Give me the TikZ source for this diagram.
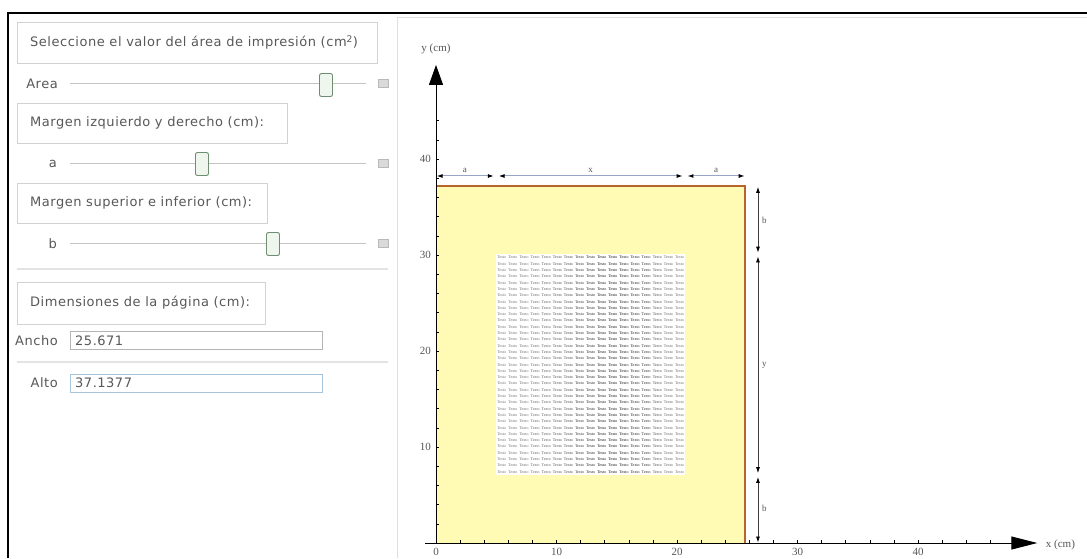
\documentclass[tikz,border=0pt]{standalone}
\usepackage{fontspec}
\setmainfont{DejaVu Sans}[LetterSpace=4]
\newfontfamily\serifp{Liberation Serif}
\usetikzlibrary{arrows.meta}
\definecolor{uigray}{HTML}{585858}
\definecolor{boxline}{HTML}{D2D2D2}
\definecolor{trackc}{HTML}{C4C4C4}
\definecolor{thumbline}{HTML}{6E8E72}
\definecolor{thumbfill}{HTML}{EEF6EE}
\definecolor{fieldline}{HTML}{B4B4B4}
\definecolor{fieldblue}{HTML}{A6C4DA}
\definecolor{pagefill}{HTML}{FFFBB4}
\definecolor{pageedge}{HTML}{B8642A}
\definecolor{dimtopc}{HTML}{9AA4C4}
\definecolor{dimrightc}{HTML}{3C3C3C}
\definecolor{labgray}{HTML}{555555}
\tikzset{
  uitext/.style={font=\fontsize{13}{15}\selectfont, text=uigray, inner sep=0pt},
  labelbox/.style={draw=boxline, line width=0.8pt, anchor=north west, inner sep=0pt},
  trackline/.style={draw=trackc, line width=0.9pt},
  thumb/.style={draw=thumbline, fill=thumbfill, line width=0.9pt, rounded corners=2pt, minimum width=13pt, minimum height=23pt, inner sep=0pt},
  btn/.style={draw=gray!55, fill=gray!30, minimum width=10pt, minimum height=8pt, inner sep=0pt},
  field/.style={draw=fieldline, line width=0.8pt, fill=white, anchor=north west, minimum width=252pt, minimum height=18pt, inner sep=0pt},
  sepline/.style={draw=gray!22, line width=1.2pt},
  axisline/.style={draw=black, line width=1pt},
  ticklab/.style={font=\serifp\fontsize{11}{12}\selectfont, text=labgray, inner sep=0pt},
  dimlab/.style={font=\serifp\fontsize{9}{10}\selectfont, text=labgray, inner sep=0pt},
  dimtop/.style={draw=dimtopc, line width=1pt, {Latex[length=6pt,width=4pt,black]}-{Latex[length=6pt,width=4pt,black]}},
  dimright/.style={draw=dimrightc, line width=0.8pt, {Latex[length=6pt,width=4pt,black]}-{Latex[length=6pt,width=4pt,black]}},
  gridword/.style={font=\serifp\fontsize{4}{4}\selectfont, inner sep=0pt}
}
\begin{document}
\begin{tikzpicture}[x=1pt,y=-1pt]
\useasboundingbox (0,0) rectangle (1087,558);
\fill[white] (0,0) rectangle (1087,558);
% outer frame
\draw[black, line width=2.5pt] (8,558) -- (8,13) -- (1087,13);
% panel borders
\draw[gray!25, line width=1pt] (397,558) -- (397,17) -- (1087,17);

% ---------- left control panel ----------
\node[labelbox, minimum width=360pt, minimum height=41pt] (box1) at (17,22) {};
\node[uitext, anchor=west] (t1) at (30,42.5) {Seleccione el valor del área de impresión (cm\textsuperscript{2})};
\node[uitext, anchor=east] (lArea) at (58,84) {Area};
\coordinate (trA1) at (70,83); \coordinate (trA2) at (366,83);
\draw[trackline] (trA1) -- (trA2);
\node[thumb] (thA) at (326,85) {};
\node[btn] (bA) at (383,83) {};

\node[labelbox, minimum width=270pt, minimum height=40pt] (box2) at (17,103) {};
\node[uitext, anchor=west] (t2) at (30,123) {Margen izquierdo y derecho (cm):};
\node[uitext, anchor=east] (la) at (57,164) {a};
\coordinate (tra1) at (70,163); \coordinate (tra2) at (366,163);
\draw[trackline] (tra1) -- (tra2);
\node[thumb] (tha) at (202,164) {};
\node[btn] (ba) at (383,163) {};

\node[labelbox, minimum width=250pt, minimum height=40pt] (box3) at (17,183) {};
\node[uitext, anchor=west] (t3) at (30,203) {Margen superior e inferior (cm):};
\node[uitext, anchor=east] (lb) at (57,244) {b};
\coordinate (trb1) at (70,243); \coordinate (trb2) at (366,243);
\draw[trackline] (trb1) -- (trb2);
\node[thumb] (thb) at (273,244) {};
\node[btn] (bb) at (383,243) {};

\coordinate (s1a) at (17,269); \coordinate (s1b) at (388,269);
\draw[sepline] (s1a) -- (s1b);

\node[labelbox, minimum width=248pt, minimum height=42pt] (box4) at (17,282) {};
\node[uitext, anchor=west] (t4) at (30,303) {Dimensiones de la página (cm):};

\node[uitext, anchor=east] (lAncho) at (58,341) {Ancho};
\node[field] (fAncho) at (70,331) {};
\node[uitext, anchor=west] (vAncho) at (75,340.5) {25.671};

\coordinate (s2a) at (17,362); \coordinate (s2b) at (388,362);
\draw[sepline] (s2a) -- (s2b);

\node[uitext, anchor=east] (lAlto) at (58,383) {Alto};
\node[field, draw=fieldblue] (fAlto) at (70,374) {};
\node[uitext, anchor=west] (vAlto) at (75,383) {37.1377};

% ---------- plot ----------
\begin{scope}[shift={(436,543)}, x=12.05pt, y=9.6pt]
  \coordinate (O) at (0,0);
  \coordinate (P1) at (0,37.1377);
  \coordinate (P2) at (25.671,37.1377);
  \coordinate (P3) at (25.671,0);
  \fill[pagefill] (O) rectangle (P2);
  \draw[pageedge, line width=2pt] (P1) -- (P2) -- (P3);
  % text area
  \fill[white] (5,7.083) rectangle (20.671,30.055);
  \foreach \c/\k in {0/55,1/58,2/60,3/62,4/66,5/70,6/75,7/82,8/88,9/95,10/97,11/97,12/92,13/85,14/72,15/64,16/58}{
    \foreach \r in {0,...,34}{
      \node[gridword, text=black!\k] (w-\r-\c) at ({5+0.9218*(\c+0.5)},{7.083+0.6563*(\r+0.5)}) {Texto};
    }
  }
  % axes
  \coordinate (xs) at (-0.9,0); \coordinate (xe) at (49.9,0);
  \coordinate (ys) at (0,0); \coordinate (ye) at (0,49.8);
  \draw[axisline, -{Triangle[length=26pt,width=13pt]}] (xs) -- (xe);
  \draw[axisline, -{Triangle[length=20pt,width=14pt]}] (ys) -- (ye);
  \foreach \i in {2,4,...,48}{\draw[black, line width=0.6pt] (\i,0) -- (\i,0.3);}
  \foreach \i in {2,4,...,44}{\draw[black, line width=0.6pt] (0,\i) -- (0.25,\i);}
  \foreach \i in {0,10,20,30,40}{\node[ticklab] (xl\i) at (\i,-0.9) {\i};}
  \foreach \i in {10,20,30,40}{\node[ticklab, anchor=east] (yl\i) at (-0.4,\i) {\i};}
  \node[ticklab] (ylab) at (0,51.5) {y (cm)};
  \node[ticklab, anchor=west] (xlab) at (50.6,-0.15) {x (cm)};
  % top dimension
  \coordinate (d1) at (0.05,38.23); \coordinate (d2) at (4.8,38.23);
  \coordinate (d3) at (5.2,38.23); \coordinate (d4) at (20.47,38.23);
  \coordinate (d5) at (20.87,38.23); \coordinate (d6) at (25.62,38.23);
  \draw[dimtop] (d1) -- (d2);
  \draw[dimtop] (d3) -- (d4);
  \draw[dimtop] (d5) -- (d6);
  \node[dimlab] (la1) at (2.4,38.85) {a};
  \node[dimlab] (lx) at (12.83,38.85) {x};
  \node[dimlab] (la2) at (23.25,38.85) {a};
  % right dimension
  \coordinate (e1) at (26.72,37.1); \coordinate (e2) at (26.72,30.25);
  \coordinate (e3) at (26.72,29.85); \coordinate (e4) at (26.72,7.28);
  \coordinate (e5) at (26.72,6.88); \coordinate (e6) at (26.72,0.05);
  \draw[dimright] (e1) -- (e2);
  \draw[dimright] (e3) -- (e4);
  \draw[dimright] (e5) -- (e6);
  \node[dimlab, anchor=west] (lb1) at (27.05,33.6) {b};
  \node[dimlab, anchor=west] (ly) at (27.05,18.5) {y};
  \node[dimlab, anchor=west] (lb2) at (27.05,3.6) {b};
\end{scope}
\end{tikzpicture}
\end{document}
